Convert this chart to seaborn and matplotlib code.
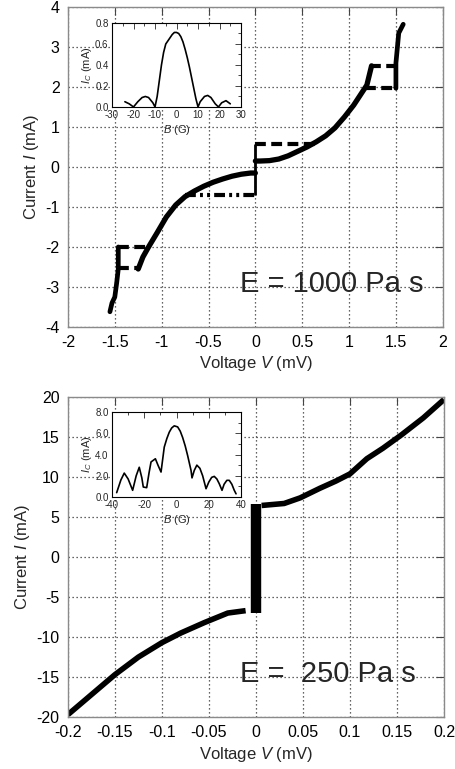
import matplotlib
matplotlib.use("Agg")
import matplotlib.pyplot as plt
import seaborn as sns
from matplotlib.ticker import MultipleLocator, FormatStrFormatter

# --- Data: top panel (E = 1000 Pa s) ---
top_neg_tail_v = [-1.552, -1.53, -1.50, -1.48, -1.463, -1.463]
top_neg_tail_i = [-3.62, -3.40, -3.25, -2.90, -2.55, -2.00]
top_neg_v = [-1.25, -1.20, -1.14, -1.05, -0.95, -0.85, -0.75, -0.65, -0.55, -0.45, -0.35, -0.25, -0.15, -0.05, 0.0]
top_neg_i = [-2.55, -2.25, -2.00, -1.65, -1.25, -0.95, -0.74, -0.60, -0.48, -0.38, -0.30, -0.23, -0.18, -0.15, -0.15]
top_zero_v = [0.0, 0.0]
top_zero_i = [-0.70, 0.58]
top_pos_v = [0.0, 0.05, 0.15, 0.25, 0.35, 0.45, 0.55, 0.65, 0.75, 0.85, 0.95, 1.05, 1.12, 1.19, 1.24]
top_pos_i = [0.15, 0.15, 0.16, 0.20, 0.28, 0.39, 0.50, 0.63, 0.78, 0.98, 1.25, 1.55, 1.80, 2.05, 2.53]
top_pos_tail_v = [1.50, 1.50, 1.52, 1.53, 1.578]
top_pos_tail_i = [1.97, 2.60, 3.10, 3.35, 3.57]

# hysteresis jumps (dashed)
jump_v = [[-1.463, -1.16], [-1.463, -1.24], [0.0, 0.69], [1.22, 1.50], [1.17, 1.50]]
jump_i = [[-2.00, -2.00], [-2.53, -2.53], [0.58, 0.58], [2.53, 2.53], [1.97, 1.97]]
retrap_v = [-0.75, 0.0]
retrap_i = [-0.70, -0.70]

# inset (top)
ins1_b = [-24, -22, -20, -18, -16, -14.5, -13, -11, -10, -9, -8, -7, -6, -5, -4, -3, -2, -1, 0,
          1, 2, 3, 4, 5, 6, 7, 8, 9, 10, 11, 13, 14.5, 16, 18, 19.5, 21, 23, 25]
ins1_ic = [0.05, 0.03, 0.0, 0.05, 0.09, 0.10, 0.09, 0.04, 0.0, 0.10, 0.25, 0.40, 0.52, 0.60, 0.63, 0.66, 0.69, 0.71, 0.71,
           0.70, 0.67, 0.62, 0.55, 0.47, 0.38, 0.28, 0.18, 0.08, 0.0, 0.05, 0.10, 0.11, 0.09, 0.03, 0.0, 0.04, 0.06, 0.03]

# --- Data: bottom panel (E = 250 Pa s) ---
bot_neg_v = [-0.20, -0.175, -0.15, -0.125, -0.10, -0.08, -0.055, -0.03, -0.011]
bot_neg_i = [-19.7, -17.2, -14.7, -12.5, -10.7, -9.5, -8.2, -7.0, -6.7]
bot_zero_v = [0.0, 0.0]
bot_zero_i = [-7.0, 6.67]
bot_pos_v = [0.006, 0.03, 0.047, 0.068, 0.085, 0.10, 0.118, 0.135, 0.155, 0.178, 0.20]
bot_pos_i = [6.45, 6.7, 7.4, 8.6, 9.5, 10.4, 12.3, 13.6, 15.3, 17.4, 19.7]

# inset (bottom)
ins2_b = [-37.1, -34.5, -32.4, -30, -27.2, -25, -23.1, -21.5, -20.6, -18.5, -17, -15.8, -13.1, -11.5, -9.6,
          -7.6, -6, -4.5, -3, -1.4, 0.7, 2.3, 3.8, 5.4, 6.9, 9.0, 9.6, 11, 12.6, 14.5, 16.2, 18.3,
          20, 21.8, 23.4, 25, 26.5, 28.2, 29.5, 31.2, 32.7, 34.3, 35.8, 36.9]
ins2_ic = [0.41, 1.6, 2.25, 1.7, 0.63, 2.0, 2.8, 1.8, 0.94, 0.88, 2.3, 3.3, 3.6, 3.0, 2.35,
           4.7, 5.5, 6.1, 6.5, 6.7, 6.6, 6.2, 5.6, 4.8, 3.9, 2.5, 1.8, 2.5, 3.0, 2.7, 2.0, 0.78,
           1.4, 1.85, 1.94, 1.7, 1.25, 0.63, 1.2, 1.57, 1.57, 1.2, 0.63, 0.3]

top_label = "E = 1000 Pa s"
bot_label = "E =  250 Pa s"

# --- Style ---
sns.set_style("white")
plt.rcParams["font.family"] = ["Liberation Sans", "DejaVu Sans"]
plt.rcParams["mathtext.fontset"] = "custom"
plt.rcParams["mathtext.rm"] = "Liberation Sans"
plt.rcParams["mathtext.it"] = "Liberation Sans:italic"
plt.rcParams["axes.unicode_minus"] = False

DASH = (0, (2.6, 1.3))
DASHDOT = (0, (2.6, 1.0, 0.7, 1.0, 0.7, 1.0))


def style_main(ax, xlim, ylim, xstep, ystep, xfmt):
    ax.set_xlim(*xlim)
    ax.set_ylim(*ylim)
    ax.xaxis.set_major_locator(MultipleLocator(xstep))
    ax.yaxis.set_major_locator(MultipleLocator(ystep))
    ax.xaxis.set_major_formatter(FormatStrFormatter(xfmt))
    ax.grid(True, linestyle=(0, (1, 2.2)), color="#333333", lw=0.9)
    for sp in ax.spines.values():
        sp.set_color("#8a8a8a")
        sp.set_linewidth(1.0)
    ax.tick_params(direction="in", length=6, width=0.8, color="#444444",
                   top=True, right=True, labelsize=11.5, pad=6, labelcolor="black")
    ax.set_xlabel("Voltage $V$ (mV)", fontsize=12, labelpad=3)
    ax.set_ylabel("Current $I$ (mA)", fontsize=12, labelpad=3)


def style_inset(ax, xlim, ylim, xstep, xminor, ystep, yminor, yfmt):
    ax.set_xlim(*xlim)
    ax.set_ylim(*ylim)
    ax.xaxis.set_major_locator(MultipleLocator(xstep))
    ax.xaxis.set_minor_locator(MultipleLocator(xminor))
    ax.yaxis.set_major_locator(MultipleLocator(ystep))
    ax.yaxis.set_minor_locator(MultipleLocator(yminor))
    ax.yaxis.set_major_formatter(FormatStrFormatter(yfmt))
    ax.grid(False)
    for sp in ax.spines.values():
        sp.set_color("black")
        sp.set_linewidth(0.8)
    ax.tick_params(which="both", direction="in", top=True, right=True, width=0.6, labelsize=7, pad=2.5)
    ax.tick_params(which="major", length=4)
    ax.tick_params(which="minor", length=2)
    ax.set_xlabel("$B$ (G)", fontsize=8, labelpad=2)
    ax.set_ylabel("$I_C$ (mA)", fontsize=8, labelpad=1)


def line(ax, x, y, lw, ls="-", cap="butt"):
    sns.lineplot(x=x, y=y, ax=ax, color="black", lw=lw, linestyle=ls, sort=False,
                 estimator=None, solid_capstyle=cap, dash_capstyle="butt")


fig = plt.figure(figsize=(4.56, 7.69), dpi=100)

# --- Top panel ---
ax1 = fig.add_axes([0.149, 0.5748, 0.822, 0.416])
style_main(ax1, (-2, 2), (-4, 4), 0.5, 1, "%g")
line(ax1, top_neg_tail_v, top_neg_tail_i, 3.4, cap="round")
line(ax1, top_neg_v, top_neg_i, 3.8, cap="round")
line(ax1, top_zero_v, top_zero_i, 2.0)
line(ax1, top_pos_v, top_pos_i, 3.8, cap="round")
line(ax1, top_pos_tail_v, top_pos_tail_i, 3.4, cap="round")
for v, i in zip(jump_v, jump_i):
    line(ax1, v, i, 3.0, ls=DASH)
line(ax1, retrap_v, retrap_i, 3.0, ls=DASHDOT)
ax1.text(0.459, 0.109, top_label, transform=ax1.transAxes, fontsize=21, va="baseline", ha="left")

in1 = fig.add_axes([0.2456, 0.8609, 0.283, 0.1092])
style_inset(in1, (-30, 30), (0, 0.8), 10, 5, 0.2, 0.1, "%.1f")
line(in1, ins1_b, ins1_ic, 1.2, cap="round")

# --- Bottom panel ---
ax2 = fig.add_axes([0.149, 0.0676, 0.8246, 0.416])
style_main(ax2, (-0.2, 0.2), (-20, 20), 0.05, 5, "%g")
line(ax2, bot_neg_v, bot_neg_i, 4.0)
line(ax2, bot_zero_v, bot_zero_i, 7.5)
line(ax2, bot_pos_v, bot_pos_i, 4.0)
ax2.text(0.457, 0.110, bot_label, transform=ax2.transAxes, fontsize=21, va="baseline", ha="left")

in2 = fig.add_axes([0.2456, 0.3537, 0.283, 0.1105])
style_inset(in2, (-40, 40), (0, 8), 20, 10, 2, 1, "%.1f")
line(in2, ins2_b, ins2_ic, 1.2, cap="round")

fig.savefig("out.png", dpi=100)
